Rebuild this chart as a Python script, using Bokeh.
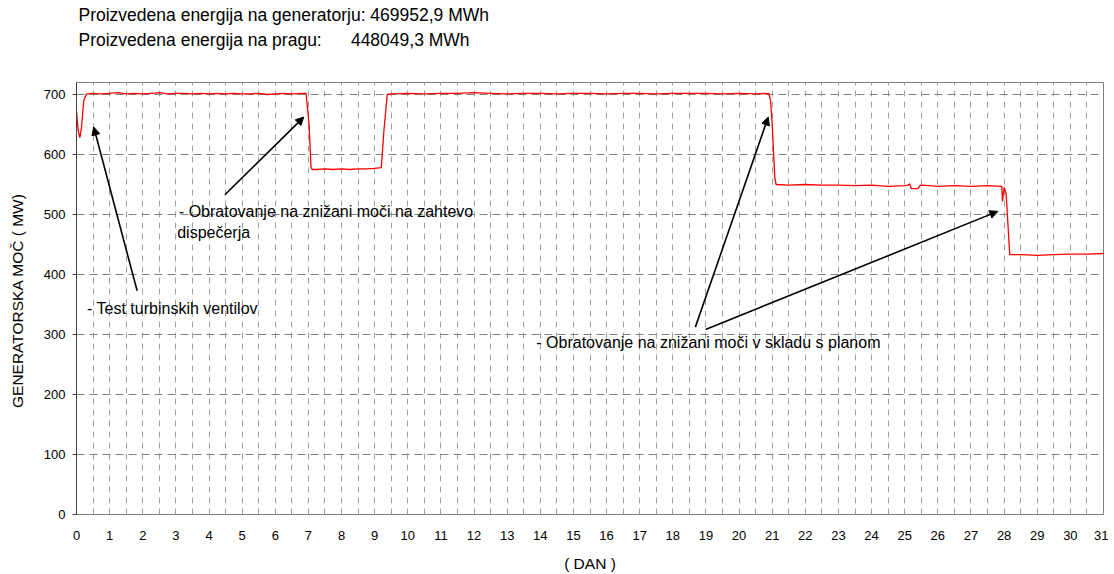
from bokeh.plotting import figure
from bokeh.models import Range1d, FixedTicker, Label, Arrow, NormalHead, Title
from bokeh.embed import file_html
from bokeh.resources import INLINE

# ---- data ----
day = [0.00, 0.05, 0.10, 0.15, 0.22, 0.30, 0.50, 0.75, 1.00, 1.25, 1.50, 1.75,
       2.00, 2.25, 2.50, 2.75, 3.00, 3.25, 3.50, 3.75, 4.00, 4.25, 4.50, 4.75,
       5.00, 5.25, 5.50, 5.75, 6.00, 6.25, 6.50, 6.75, 6.93, 7.02, 7.08, 7.12,
       7.25, 7.50, 7.75, 8.00, 8.25, 8.50, 8.75, 9.00, 9.20, 9.28, 9.38, 9.50,
       10.0, 10.5, 11.0, 11.5, 12.0, 12.5, 13.0, 13.5, 14.0, 14.5, 15.0, 15.5,
       16.0, 16.5, 17.0, 17.5, 18.0, 18.5, 19.0, 19.5, 20.0, 20.5, 20.90, 20.95,
       21.00, 21.08, 21.12, 21.50, 22.0, 22.5, 23.0, 23.5, 24.0, 24.5, 25.0, 25.10,
       25.15, 25.20, 25.40, 25.47, 25.75, 26.0, 26.5, 27.0, 27.5, 27.90, 27.93, 27.95,
       28.00, 28.06, 28.17, 28.50, 29.0, 29.5, 30.0, 30.5, 31.0]
power = [672, 640, 628, 645, 690, 701, 702, 701, 702, 703, 701, 702,
         701, 702, 703, 701, 702, 702, 701, 702, 701, 702, 701, 702,
         701, 701, 702, 700, 701, 702, 701, 702, 702, 650, 578, 575,
         575, 576, 575, 576, 575, 576, 576, 577, 578, 640, 700, 701,
         702, 701, 702, 702, 703, 702, 701, 702, 702, 701, 702, 702,
         701, 702, 702, 701, 702, 702, 702, 701, 702, 701, 702, 690,
         650, 560, 550, 549, 550, 549, 549, 548, 549, 547, 548, 549,
         551, 543, 543, 549, 548, 547, 548, 547, 548, 547, 547, 522,
         545, 535, 433, 433, 432, 433, 434, 434, 435]

x_ticks = list(range(0, 32))
y_ticks = [0, 100, 200, 300, 400, 500, 600, 700]
x_grid = [i * 0.5 for i in range(1, 62)]
y_grid = [100, 200, 300, 400, 500, 600, 700]

title_1 = "Proizvedena energija na generatorju: 469952,9 MWh"
title_2 = "Proizvedena energija na pragu:" + "\u00a0" * 6 + "448049,3 MWh"

FONT = "Liberation Sans"

p = figure(width=1108, height=574, output_backend="svg", toolbar_location=None,
           x_range=Range1d(0, 31), y_range=Range1d(0, 720),
           min_border_left=76, min_border_right=5, min_border_top=82,
           min_border_bottom=57)
p.title = None
p.background_fill_color = "white"
p.border_fill_color = "white"
p.outline_line_color = "#808080"
p.outline_line_width = 1

# title block: an empty spacer next to the frame, then line 2, then line 1
for txt, so in [("\u00a0", 10), (title_2, 2), (title_1, 3)]:
    p.add_layout(Title(text=txt, align="left", offset=2, standoff=so,
                       text_font=FONT, text_font_size="17.5px", text_font_style="normal",
                       text_color="black"), "above")

# axes
p.xaxis.ticker = FixedTicker(ticks=x_ticks)
p.yaxis.ticker = FixedTicker(ticks=y_ticks)
p.xaxis.minor_tick_line_color = None
p.yaxis.minor_tick_line_color = None
p.xaxis.major_tick_out = 0
p.xaxis.major_tick_in = 0
p.yaxis.major_tick_out = 4
p.yaxis.major_tick_in = 0
p.yaxis.major_tick_line_color = "#404040"
p.xaxis.axis_line_color = "#808080"
p.yaxis.axis_line_color = "#404040"
p.xaxis.major_label_standoff = 16
p.yaxis.major_label_standoff = 7
for ax in (p.xaxis, p.yaxis):
    ax.major_label_text_font = FONT
    ax.major_label_text_font_size = "13px"
    ax.major_label_text_color = "black"
    ax.axis_label_text_font = FONT
    ax.axis_label_text_font_size = "15.5px"
    ax.axis_label_text_font_style = "normal"
    ax.axis_label_text_color = "black"
p.xaxis.axis_label = "( DAN )"
p.xaxis.axis_label_standoff = 12
p.yaxis.axis_label = "GENERATORSKA MOČ  ( MW)"
p.yaxis.axis_label_standoff = 15

# grid
p.xgrid.ticker = FixedTicker(ticks=x_grid)
p.ygrid.ticker = FixedTicker(ticks=y_grid)
p.xgrid.grid_line_color = "#a0a0a0"
p.xgrid.grid_line_dash = "6 5"
p.xgrid.grid_line_width = 1
p.ygrid.grid_line_color = "#808080"
p.ygrid.grid_line_dash = "8 5"
p.ygrid.grid_line_width = 1

# series
p.line(day, power, line_color="#ff0000", line_width=1.3)

# annotations
notes = [("- Test turbinskih ventilov", 0.32, 342.6),
         ("- Obratovanje na znižani moči na zahtevo", 3.09, 504.2),
         ("dispečerja", 3.04, 469.5),
         ("- Obratovanje na znižani moči v skladu s planom", 13.88, 287.5)]
for txt, x, y in notes:
    p.add_layout(Label(x=x, y=y, text=txt, text_font=FONT, text_font_size="16px",
                       text_baseline="middle", text_align="left", text_color="black"))

arrows = [((1.83, 372.8), (0.52, 645.9)),
          ((4.48, 532.9), (6.86, 662.4)),
          ((18.68, 312.3), (20.88, 662.4)),
          ((18.99, 308.3), (27.81, 505.2))]
for (x0, y0), (x1, y1) in arrows:
    p.add_layout(Arrow(end=NormalHead(size=8, fill_color="black", line_color="black"),
                       x_start=x0, y_start=y0, x_end=x1, y_end=y1,
                       line_color="black", line_width=1.6))

open("out.html", "w").write(file_html(p, INLINE))
